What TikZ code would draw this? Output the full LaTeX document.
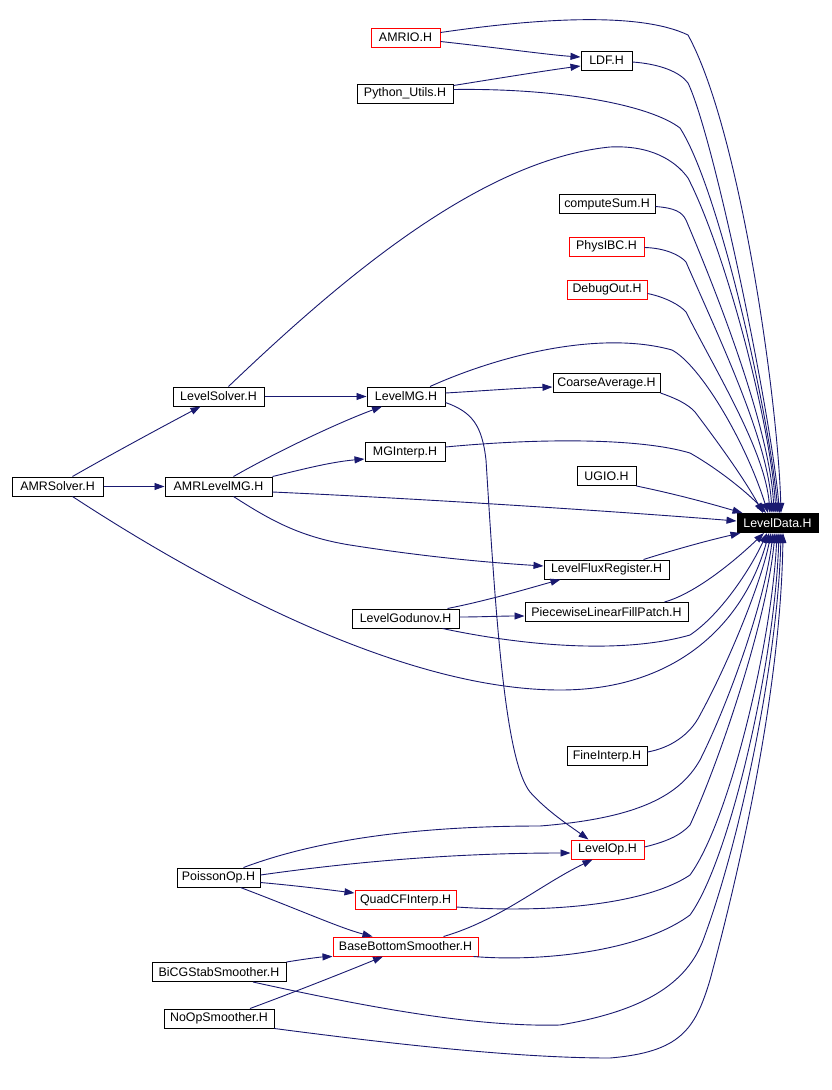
\documentclass[tikz,border=0pt]{standalone}
\usepackage{fontspec}
\setmainfont{Liberation Sans}
\usetikzlibrary{arrows.meta}
\definecolor{depblue}{RGB}{25,25,112}

\begin{document}
\begin{tikzpicture}[
    x=1pt, y=-1pt,
    hdr/.style={
        rectangle,
        draw=black,
        fill=white,
        line width=1pt,
        minimum height=19pt,
        inner sep=0pt,
        font=\fontsize{12.4}{14}\selectfont
    },
    hdr red/.style={
        hdr,
        draw=red
    },
    hdr main/.style={
        hdr,
        fill=black,
        text=white
    },
    dep/.style={
        draw=depblue,
        line width=0.9pt,
        -{Triangle[length=10pt,width=7pt]}
    }
]

% Fondo
\fill[white] (0,0) rectangle (832,1090);
\useasboundingbox (0,0) rectangle (832,1090);

% Archivo central
\node[hdr main, minimum width=81pt] (ld) at (777.5,523) {LevelData.H};

% Cabeceras de arriba
\node[hdr red, minimum width=69pt] (amrio) at (405.5,37.5) {AMRIO.H};
\node[hdr, minimum width=51pt] (ldf) at (606.5,60.5) {LDF.H};
\node[hdr, minimum width=96pt] (python) at (405,93.5) {Python\_Utils.H};
\node[hdr, minimum width=96pt] (computesum) at (607,204) {computeSum.H};
\node[hdr red, minimum width=75pt] (physibc) at (606.5,246.5) {PhysIBC.H};
\node[hdr red, minimum width=80pt] (debugout) at (607,289.5) {DebugOut.H};

% Solvers
\node[hdr, minimum width=91pt] (levelsolver) at (218.5,396.5) {LevelSolver.H};
\node[hdr, minimum width=78pt] (levelmg) at (406,396.5) {LevelMG.H};
\node[hdr, minimum width=107pt] (coarseavg) at (606.5,383) {CoarseAverage.H};
\node[hdr, minimum width=80pt] (mginterp) at (405,452) {MGInterp.H};
\node[hdr, minimum width=91pt] (amrsolver) at (57.5,486.5) {AMRSolver.H};
\node[hdr, minimum width=107pt] (amrlevelmg) at (218.5,486.5) {AMRLevelMG.H};
\node[hdr, minimum width=59pt] (ugio) at (606.5,476) {UGIO.H};

% Flujos
\node[hdr, minimum width=125pt] (fluxreg) at (606.5,569.5) {LevelFluxRegister.H};
\node[hdr, minimum width=163pt] (pwlfp) at (606.5,612) {PiecewiseLinearFillPatch.H};
\node[hdr, minimum width=107pt] (godunov) at (405.5,618.5) {LevelGodunov.H};
\node[hdr, minimum width=80pt] (fineinterp) at (607,756) {FineInterp.H};

% Operadores y suavizadores
\node[hdr red, minimum width=73pt] (levelop) at (607.5,849.5) {LevelOp.H};
\node[hdr, minimum width=83pt] (poissonop) at (218.5,877.5) {PoissonOp.H};
\node[hdr red, minimum width=101pt] (quadcf) at (405.5,900) {QuadCFInterp.H};
\node[hdr red, minimum width=145pt] (basebottom) at (405.5,946.5) {BaseBottomSmoother.H};
\node[hdr, minimum width=134pt] (bicgstab) at (219,972) {BiCGStabSmoother.H};
\node[hdr, minimum width=110pt] (noop) at (219,1018.5) {NoOpSmoother.H};

% Dependencias entre cabeceras
\draw[dep] ([yshift=-4]amrio.east) .. controls (500,48) and (550,55) .. ([yshift=3.5]ldf.west);
\draw[dep] ([yshift=8]python.east) .. controls (500,78) and (550,70) .. ([yshift=-5.5]ldf.west);
\draw[dep] (amrsolver.east) -- (amrlevelmg.west);
\draw[dep] ([xshift=15]amrsolver.north) .. controls (110,455) and (160,428) .. ([xshift=-18]levelsolver.south);
\draw[dep] (levelsolver.east) -- (levelmg.west);
\draw[dep] ([xshift=15]amrlevelmg.north) .. controls (280,450) and (340,422) .. ([xshift=-24]levelmg.south);
\draw[dep] (amrlevelmg.north east) .. controls (300,470) and (330,462) .. ([yshift=-7]mginterp.west);
\draw[dep] ([yshift=3.5]levelmg.east) .. controls (480,391) and (520,388) .. ([yshift=-4]coarseavg.west);
\draw[dep] ([xshift=15]amrlevelmg.south) .. controls (270,520) and (300,537) .. (350,545)
    .. controls (420,556) and (480,562) .. ([yshift=3.5]fluxreg.west);
\draw[dep] ([xshift=-12]godunov.north east) .. controls (490,600) and (530,588) .. ([xshift=-46]fluxreg.south);
\draw[dep] ([yshift=1.5]godunov.east) .. controls (480,617) and (500,616) .. ([yshift=-4]pwlfp.west);
\draw[dep] ([yshift=-6]levelmg.east) .. controls (472,412) and (482,425) .. (486,460)
    .. controls (496,620) and (505,760) .. (530,792)
    .. controls (548,812) and (570,826) .. ([xshift=-19]levelop.north);
\draw[dep] ([yshift=2.5]poissonop.east) .. controls (380,858) and (480,853) .. ([yshift=-3.5]levelop.west);
\draw[dep] ([yshift=-5]poissonop.east) .. controls (300,886) and (330,890) .. ([yshift=7]quadcf.west);
\draw[dep] ([xshift=22]poissonop.south) .. controls (300,910) and (340,928) .. ([xshift=-33]basebottom.north);
\draw[dep] ([xshift=38]basebottom.north) .. controls (500,920) and (540,885) .. ([xshift=-15]levelop.south);
\draw[dep] (bicgstab.north east) .. controls (305,959) and (320,957) .. (basebottom.south west);
\draw[dep] ([xshift=31]noop.north) .. controls (300,990) and (350,970) .. ([xshift=-22.5]basebottom.south);

% Dependencias hacia LevelData.H (por arriba)
\draw[dep] ([yshift=5]amrio.east) .. controls (540,18) and (640,12) .. (688,35)
    .. controls (740,130) and (778,400) .. ([xshift=3.5]ld.north);
\draw[dep] ([yshift=-1.5]ldf.east) .. controls (660,64) and (680,72) .. (688,83)
    .. controls (715,140) and (772,420) .. ([xshift=2]ld.north);
\draw[dep] ([yshift=4]python.east) .. controls (560,88) and (650,105) .. (680,128)
    .. controls (720,190) and (770,420) .. ([xshift=0.5]ld.north);
\draw[dep] ([xshift=10]levelsolver.north) .. controls (340,280) and (480,160) .. (610,147)
    .. controls (650,145) and (675,160) .. (688,178)
    .. controls (725,250) and (770,420) .. ([xshift=-1.5]ld.north);
\draw[dep] ([yshift=-2.5]computesum.east) .. controls (675,208) and (682,212) .. (686,220)
    .. controls (720,300) and (770,430) .. ([xshift=-3.5]ld.north);
\draw[dep] ([yshift=-1]physibc.east) .. controls (665,248) and (680,255) .. (686,262)
    .. controls (720,340) and (768,440) .. ([xshift=-5.5]ld.north);
\draw[dep] ([yshift=-4]debugout.east) .. controls (665,297) and (680,305) .. (686,312)
    .. controls (715,370) and (765,450) .. ([xshift=-7.5]ld.north);
\draw[dep] ([xshift=24]levelmg.north) .. controls (500,355) and (600,330) .. (672,350)
    .. controls (700,365) and (745,440) .. ([xshift=-9.5]ld.north);
\draw[dep] ([yshift=5]mginterp.east) .. controls (540,438) and (640,438) .. (690,453)
    .. controls (720,470) and (750,495) .. ([xshift=-11.5]ld.north);
\draw[dep] (coarseavg.south east) .. controls (675,398) and (688,404) .. (695,412)
    .. controls (720,445) and (745,480) .. ([xshift=-14.5]ld.north);
\draw[dep] (ugio.south east) .. controls (680,495) and (715,505) .. ([xshift=6]ld.north west);
\draw[dep] ([yshift=-5.5]amrlevelmg.east) .. controls (450,500) and (650,514) .. ([yshift=2]ld.west);
\draw[dep] ([xshift=37]fluxreg.north) .. controls (680,548) and (710,540) .. ([xshift=4]ld.south west);

% Dependencias hacia LevelData.H (por abajo)
\draw[dep] ([xshift=58]pwlfp.north) .. controls (690,595) and (725,570) .. ([xshift=-13.5]ld.south);
\draw[dep] ([xshift=37]godunov.south) .. controls (520,645) and (620,655) .. (690,635)
    .. controls (720,615) and (750,570) .. ([xshift=-10.5]ld.south);
\draw[dep] ([xshift=15]amrsolver.south) .. controls (200,580) and (400,690) .. (560,690)
    .. controls (680,690) and (745,620) .. ([xshift=-8.5]ld.south);
\draw[dep] ([yshift=4]fineinterp.east) .. controls (670,748) and (690,735) .. (700,715)
    .. controls (730,660) and (762,580) .. ([xshift=-6.5]ld.south);
\draw[dep] ([xshift=25]poissonop.north) .. controls (330,835) and (440,826) .. (540,826)
    .. controls (640,818) and (680,795) .. (700,760)
    .. controls (730,700) and (765,600) .. ([xshift=-4.5]ld.south);
\draw[dep] ([yshift=2.5]levelop.east) .. controls (665,842) and (680,836) .. (690,825)
    .. controls (720,760) and (767,620) .. ([xshift=-2.5]ld.south);
\draw[dep] ([yshift=-7]quadcf.east) .. controls (560,914) and (650,902) .. (690,875)
    .. controls (730,820) and (772,640) .. ([xshift=-0.5]ld.south);
\draw[dep] ([xshift=-5]basebottom.south east) .. controls (540,962) and (640,952) .. (690,915)
    .. controls (730,860) and (775,660) .. ([xshift=1.5]ld.south);
\draw[dep] ([xshift=34]bicgstab.south) .. controls (380,1010) and (480,1027) .. (560,1025)
    .. controls (650,1010) and (690,980) .. (705,935)
    .. controls (740,840) and (778,660) .. ([xshift=3.5]ld.south);
\draw[dep] (noop.south east) .. controls (400,1045) and (520,1058) .. (610,1058)
    .. controls (680,1052) and (695,1030) .. (710,980)
    .. controls (745,850) and (781,680) .. ([xshift=5.5]ld.south);

\end{tikzpicture}
\end{document}
